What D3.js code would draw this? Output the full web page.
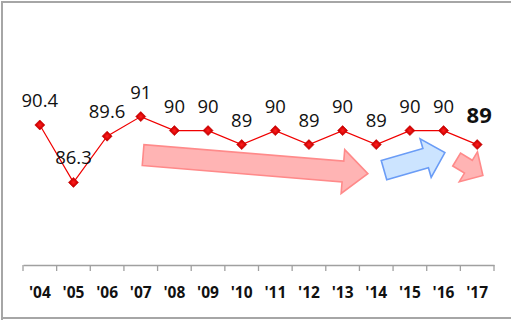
<!DOCTYPE html>
<html><head><meta charset="utf-8">
<script src="https://cdn.jsdelivr.net/npm/d3@7"></script>
<style>html,body{margin:0;padding:0;background:#fff;}svg{display:block;}</style>
</head><body>
<svg id="c" width="511" height="320"></svg>
<script>
const categories = ["'04","'05","'06","'07","'08","'09","'10","'11","'12","'13","'14","'15","'16","'17"];
const values = [90.4, 86.3, 89.6, 91, 90, 90, 89, 90, 89, 90, 89, 90, 90, 89];
const labels = ["90.4","86.3","89.6","91","90","90","89","90","89","90","89","90","90","89"];
// annotation arrows: [tail index, tail value, tip index, tip value]
const arrowTails = [[3.07, 88.25], [10.23, 87.18], [12.39, 87.93]];
const arrowTips  = [[9.75, 86.93], [12.04, 88.43], [13.17, 86.79]];
const arrowKinds = ["down", "up", "down"];

const svg = d3.select("#c");
const W = 511, H = 320;
// border (left, top, bottom)
svg.append("path").attr("d", `M2,${H+5} L2,2 L${W+5},2 M2,318 L${W+5},318`)
  .attr("fill","none").attr("stroke","#a6a6a6").attr("stroke-width",2);

const x = d3.scaleBand().domain(categories).range([23, 494]);
const xi = d3.scaleLinear().domain([0, categories.length]).range([23, 494]);
const xc = i => xi(i + 0.5);
const y = d3.scaleLinear().domain([80.4, 98]).range([265, 18.6]);

// axis
const ax = svg.append("g").attr("transform","translate(0,265)")
  .call(d3.axisBottom(x).tickSize(0).tickPadding(0).tickFormat(""));
ax.select(".domain").attr("stroke","#a0a0a0").attr("stroke-width",1.3);
ax.selectAll(".tick").remove();
const edges = d3.range(categories.length + 1);
svg.append("g").selectAll("line").data(edges).join("line")
  .attr("x1", d => xi(d)).attr("x2", d => xi(d))
  .attr("y1", 265).attr("y2", 271)
  .attr("stroke","#a0a0a0").attr("stroke-width",1.3);
svg.append("g").selectAll("text").data(categories).join("text")
  .attr("x", d => x(d) + x.bandwidth()/2).attr("y", 298)
  .attr("text-anchor","middle")
  .attr("font-family","'Open Sans', sans-serif").attr("font-weight","bold")
  .attr("font-size", 15.5).attr("fill","#111").text(d => d);

// arrows
function arrowPath(t, p, shaft, headW, headL) {
  const x0 = xc(t[0]), y0 = y(t[1]), x1 = xc(p[0]), y1 = y(p[1]);
  const dx = x1 - x0, dy = y1 - y0, L = Math.hypot(dx, dy);
  const ux = dx / L, uy = dy / L, nx = -uy, ny = ux;
  const bx = x1 - ux * headL, by = y1 - uy * headL;
  const pts = [
    [x0 + nx*shaft/2, y0 + ny*shaft/2],
    [bx + nx*shaft/2, by + ny*shaft/2],
    [bx + nx*headW/2, by + ny*headW/2],
    [x1, y1],
    [bx - nx*headW/2, by - ny*headW/2],
    [bx - nx*shaft/2, by - ny*shaft/2],
    [x0 - nx*shaft/2, y0 - ny*shaft/2]
  ];
  return "M" + pts.map(q => q.join(",")).join("L") + "Z";
}
const arrowDims = [[21, 44, 25], [20, 40, 20], [15, 35, 17]];
svg.append("g").selectAll("path").data(arrowTails).join("path")
  .attr("d", (d, i) => arrowPath(d, arrowTips[i], ...arrowDims[i]))
  .attr("fill", (d, i) => arrowKinds[i] === "up" ? "#cce4ff" : "#ffb4b4")
  .attr("stroke", (d, i) => arrowKinds[i] === "up" ? "#6a9cf6" : "#ff8a8a")
  .attr("stroke-width", 1.6).attr("stroke-linejoin","miter");

// line
svg.append("path").datum(values)
  .attr("d", d3.line().x((d, i) => xc(i)).y(d => y(d)))
  .attr("fill","none").attr("stroke","#f00000").attr("stroke-width",1.2);

// markers
const defs = svg.append("defs");
const g = defs.append("radialGradient").attr("id","mg");
g.append("stop").attr("offset","0%").attr("stop-color","#ff2020");
g.append("stop").attr("offset","100%").attr("stop-color","#d00000");
svg.append("g").selectAll("path").data(values).join("path")
  .attr("d", d3.symbol().type(d3.symbolSquare).size(50))
  .attr("transform", (d, i) => `translate(${xc(i)},${y(d)}) rotate(45)`)
  .attr("fill","url(#mg)").attr("stroke","#c00000").attr("stroke-width",0.6);

// value labels
const last = values.length - 1;
svg.append("g").selectAll("text").data(values).join("text")
  .attr("x", (d, i) => xc(i) + (i === last ? 2 : 0))
  .attr("y", (d, i) => y(d) - (i === last ? 22 : 18))
  .attr("text-anchor","middle")
  .attr("font-family","'Open Sans', sans-serif")
  .attr("font-weight", (d, i) => i === last ? "bold" : "normal")
  .attr("font-size", (d, i) => i === last ? 22 : 18.5)
  .attr("fill","#111")
  .text((d, i) => labels[i]);
</script>
</body></html>
